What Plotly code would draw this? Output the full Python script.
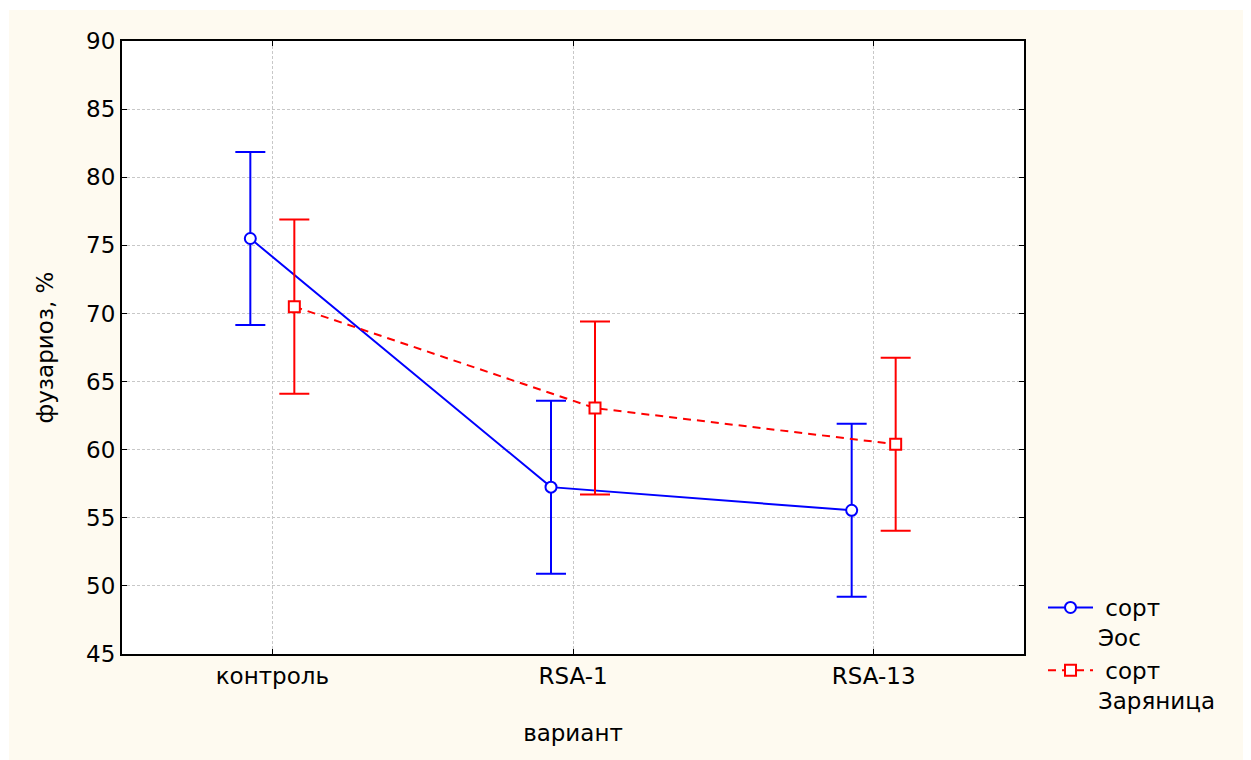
import plotly.graph_objects as go

categories = ["контроль", "RSA-1", "RSA-13"]
eos_mean = [75.5, 57.25, 55.55]
eos_err = [6.35, 6.35, 6.35]
zar_mean = [70.5, 63.05, 60.4]
zar_err = [6.4, 6.35, 6.35]
y_ticks = [45, 50, 55, 60, 65, 70, 75, 80, 85, 90]
series_names = ["\u00a0сорт<br>Эос", "\u00a0сорт<br>Заряница"]

# the page body has an 8px default margin; design in page pixels, shift by it
PAD = 8
W, H = 1251 - PAD, 760 - PAD
L, R, T, B = 122 - PAD, 1024 - PAD, 41 - PAD, 654 - PAD
offset = 22 / ((R - L) / 3)  # horizontal dodge in category units

idx = list(range(len(categories)))
font_family = "DejaVu Sans, Arial, sans-serif"
FS = 23

fig = go.Figure()
fig.add_trace(go.Scatter(
    x=[i - offset for i in idx], y=eos_mean, name=series_names[0],
    mode="lines+markers",
    line=dict(color="#0000FF", width=2),
    marker=dict(symbol="circle", size=11, color="white",
                line=dict(color="#0000FF", width=2)),
    error_y=dict(type="data", array=eos_err, visible=True,
                 color="#0000FF", thickness=2, width=15),
))
fig.add_trace(go.Scatter(
    x=[i + offset for i in idx], y=zar_mean, name=series_names[1],
    mode="lines+markers",
    line=dict(color="#FF0000", width=2, dash="8px,6px"),
    marker=dict(symbol="square", size=11, color="white",
                line=dict(color="#FF0000", width=2)),
    error_y=dict(type="data", array=zar_err, visible=True,
                 color="#FF0000", thickness=2, width=15),
))

pw, ph = R - L, B - T
cream = "#FEFAF0"
fig.add_shape(type="rect", xref="paper", yref="paper",
              x0=(9 - PAD - L) / pw, x1=(W - L) / pw,
              y0=(B - H) / ph, y1=(B - (10 - PAD)) / ph,
              fillcolor=cream, line=dict(width=0), layer="below")
fig.add_shape(type="rect", xref="paper", yref="paper",
              x0=0, x1=1, y0=0, y1=1,
              fillcolor="white", line=dict(width=0), layer="below")

axis_common = dict(
    showline=True, linecolor="black", linewidth=2, mirror="ticks",
    ticks="inside", ticklen=5, tickwidth=1, tickcolor="black",
    showgrid=True, gridcolor="#C8C8C8", griddash="3px,2px", gridwidth=1,
    zeroline=False,
    tickfont=dict(family=font_family, size=FS, color="black"),
)

fig.update_layout(
    width=W, height=H, autosize=False,
    margin=dict(l=L, r=W - R, t=T, b=H - B),
    paper_bgcolor="white", plot_bgcolor="rgba(0,0,0,0)",
    font=dict(family=font_family, size=FS, color="black"),
    xaxis=dict(axis_common, tickmode="array", tickvals=idx, ticktext=categories,
               range=[-0.5, len(categories) - 0.5],
               title=dict(text="вариант", standoff=37,
                          font=dict(family=font_family, size=FS))),
    yaxis=dict(axis_common, tickmode="array", tickvals=y_ticks,
               range=[45, 90],
               title=dict(text="фузариоз, %", standoff=26,
                          font=dict(family=font_family, size=FS))),
    legend=dict(x=(1043 - PAD - L) / pw, y=(654 - 586) / ph, xanchor="left", yanchor="top",
                bgcolor="rgba(0,0,0,0)", valign="top", itemwidth=45,
                font=dict(family=font_family, size=FS, color="black"),
                tracegroupgap=0),
    showlegend=True,
)

fig.write_html("out.html")
